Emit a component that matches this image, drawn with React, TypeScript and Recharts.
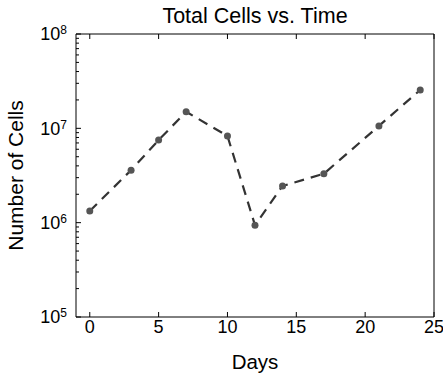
import React from 'react';
import { LineChart, Line, XAxis, YAxis } from 'recharts';

// sampling days and total cell counts
const days = [0, 3, 5, 7, 10, 12, 14, 17, 21, 24];
const cells = [1.33e6, 3.6e6, 7.5e6, 1.5e7, 8.3e6, 9.4e5, 2.45e6, 3.3e6, 1.06e7, 2.55e7];

const xTicks = [0, 5, 10, 15, 20, 25];
const yDecades = [5, 6, 7];
const yMinorSteps = [1, 2, 3, 4, 5, 6, 7, 8, 9];
const yTop = 8;

const yTicks: number[] = [];
yDecades.forEach(e => yMinorSteps.forEach(m => yTicks.push(m * Math.pow(10, e))));
yTicks.push(Math.pow(10, yTop));

const data = days.map((d, i) => ({ day: d, cells: cells[i] }));

const FONT = '"Liberation Sans", Arial, Helvetica, sans-serif';

const isMajor = (v: number) => Math.abs(Math.log10(v) - Math.round(Math.log10(v))) < 1e-9;

const LeftTick = (props: any) => {
  const { x, y, payload } = props;
  const major = isMajor(payload.value);
  const exp = Math.round(Math.log10(payload.value));
  return (
    <g>
      <line x1={x} x2={x + (major ? 5 : 3)} y1={y} y2={y} stroke="#000" strokeWidth={1} />
      {major && (
        <text x={x - 9} y={y} dy="0.35em" textAnchor="end" fontFamily={FONT} fontSize={18} fill="#000">
          <tspan>10</tspan>
          <tspan dy={-6} fontSize={12}>{exp}</tspan>
        </text>
      )}
    </g>
  );
};

const RightTick = (props: any) => {
  const { x, y, payload } = props;
  const major = isMajor(payload.value);
  return <line x1={x} x2={x - (major ? 5 : 3)} y1={y} y2={y} stroke="#000" strokeWidth={1} />;
};

const BottomTick = (props: any) => {
  const { x, y, payload } = props;
  return (
    <g>
      <line x1={x} x2={x} y1={y} y2={y - 5} stroke="#000" strokeWidth={1} />
      <text x={x} y={y + 16} textAnchor="middle" fontFamily={FONT} fontSize={18} fill="#000">
        {payload.value}
      </text>
    </g>
  );
};

const TopTick = (props: any) => {
  const { x, y } = props;
  return <line x1={x} x2={x} y1={y} y2={y + 5} stroke="#000" strokeWidth={1} />;
};

const YLabel = (props: any) => {
  const { viewBox } = props;
  const cy = viewBox.y + viewBox.height / 2;
  const cx = viewBox.x + 23;
  return (
    <text x={cx} y={cy} textAnchor="middle" transform={`rotate(-90, ${cx}, ${cy})`}
      fontFamily={FONT} fontSize={21} fill="#000">
      Number of Cells
    </text>
  );
};

const App: React.FC = () => {
  return (
    <div style={{ position: 'absolute', left: 0, top: 0, width: 443, height: 377, background: '#fff', fontFamily: FONT }}>
      <div style={{ position: 'absolute', top: 4, left: 76, width: 358, textAlign: 'center', fontSize: 21.5, lineHeight: '24px', color: '#000' }}>
        Total Cells vs. Time
      </div>
      <LineChart width={443} height={377} data={data} margin={{ top: 33, right: 8, bottom: 0, left: 0 }}>
        <XAxis
          dataKey="day"
          type="number"
          domain={[-1, 25]}
          ticks={xTicks}
          interval={0}
          height={60}
          tickSize={0}
          tickMargin={0}
          tickLine={false}
          axisLine={{ stroke: '#000', strokeWidth: 1 }}
          tick={<BottomTick />}
          label={{ value: 'Days', position: 'insideBottom', offset: 8, fontSize: 20.5, fill: '#000', fontFamily: FONT }}
        />
        <XAxis
          xAxisId="top"
          orientation="top"
          dataKey="day"
          type="number"
          domain={[-1, 25]}
          ticks={xTicks}
          interval={0}
          height={1}
          tickSize={0}
          tickMargin={0}
          tickLine={false}
          axisLine={{ stroke: '#000', strokeWidth: 1 }}
          tick={<TopTick />}
        />
        <YAxis
          dataKey="cells"
          scale="log"
          domain={[1e5, 1e8]}
          ticks={yTicks}
          interval={0}
          width={76}
          tickSize={0}
          tickMargin={0}
          tickLine={false}
          axisLine={{ stroke: '#000', strokeWidth: 1 }}
          tick={<LeftTick />}
          label={<YLabel />}
        />
        <YAxis
          yAxisId="right"
          orientation="right"
          scale="log"
          domain={[1e5, 1e8]}
          ticks={yTicks}
          interval={0}
          width={1}
          tickSize={0}
          tickMargin={0}
          tickLine={false}
          axisLine={{ stroke: '#000', strokeWidth: 1 }}
          tick={<RightTick />}
        />
        <Line
          dataKey="cells"
          stroke="#333"
          strokeWidth={2.2}
          strokeDasharray="10 7"
          dot={{ r: 3.5, fill: '#555', stroke: 'none' }}
          isAnimationActive={false}
        />
      </LineChart>
    </div>
  );
};

export default App;
